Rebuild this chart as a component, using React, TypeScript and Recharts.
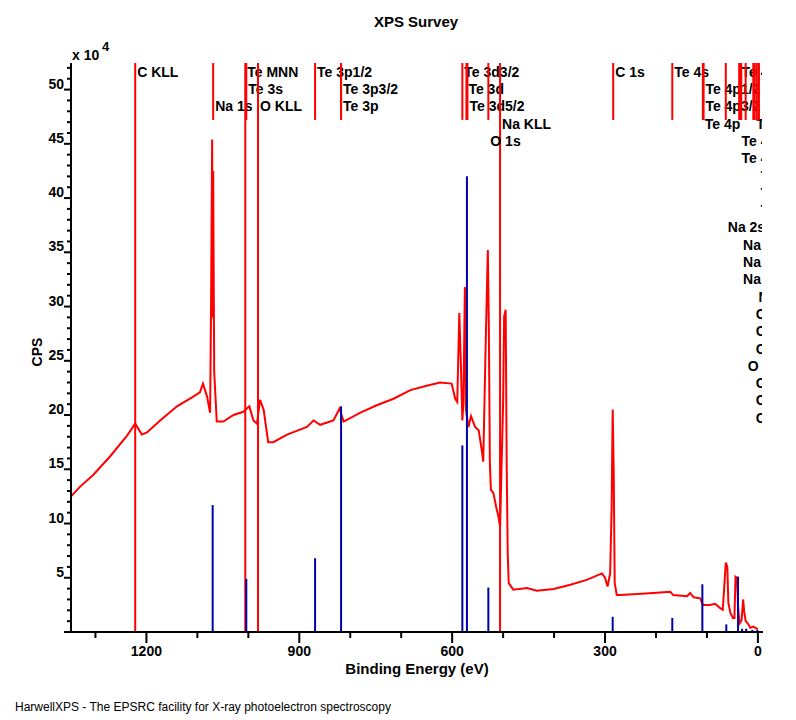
import React from 'react';
import { ComposedChart, Line, XAxis, YAxis, ReferenceLine } from 'recharts';

// survey spectrum: binding energy (eV) and counts per second (x 10^4)
const energy = [
  1348, 1330, 1304, 1271, 1238, 1222, 1209, 1199, 1173, 1140, 1108, 1095, 1089, 1081, 1075, 1073, 1071, 1070, 1069, 1067,
  1062, 1049, 1029, 1010, 998, 990, 983, 977, 970, 961, 951, 924, 885, 872, 859, 833, 821, 813, 781, 748, 715,
  682, 650, 624, 601, 594, 590, 586, 583, 580, 578, 575, 573, 568, 563, 555, 548, 542, 539, 535, 533, 530, 528,
  526, 524, 519, 514, 509, 506, 500, 498, 495, 493, 491, 489, 480, 453, 434, 401, 368, 336, 306, 300, 295, 290,
  287, 285, 283, 281, 277, 270, 237, 205, 172, 166, 139, 133, 126, 113, 108, 94, 84, 74, 69, 66, 63, 60, 58, 54,
  49, 46, 44, 41, 39, 36, 32, 29, 27, 24, 20, 15, 9, 2, 0,
];
const cps = [
  12.5, 13.4, 14.5, 16.2, 18.1, 19.2, 18.2, 18.4, 19.5, 20.8, 21.7, 22.1, 22.9, 21.7, 20.2, 31, 45.4, 29, 42.5, 24,
  19.4, 19.4, 20.0, 20.3, 20.8, 19.5, 19.2, 21.4, 20.5, 17.5, 17.5, 18.2, 18.9, 19.5, 19.1, 19.5, 20.6, 19.4, 20.2, 20.9, 21.5,
  22.3, 22.7, 23.0, 22.9, 21.5, 21.2, 29.4, 24.9, 19.5, 21.1, 31.8, 20.5, 18.9, 19.9, 18.9, 18.6, 16.8, 15.7, 24.8, 29.1, 35.2, 28.0,
  15.6, 13.1, 12.8, 11.6, 10.6, 9.7, 21.1, 29.1, 29.7, 15.6, 7.3, 4.5, 3.9, 4.05, 3.8, 3.96, 4.35, 4.8, 5.4, 5.0, 4.2, 5.4,
  11.6, 20.5, 14.9, 4.5, 3.4, 3.4, 3.5, 3.6, 3.7, 3.4, 3.3, 3.6, 3.2, 3.1, 2.5, 2.5, 2.6, 2.2, 2.05, 4.2, 6.4, 6.0, 2.7, 1.75,
  1.3, 1.3, 5.1, 5.0, 2.4, 0.8, 1.1, 3.0, 1.9, 1.0, 0.8, 0.4, 0.5, 0.3, 0.3,
];

// peak identification lines
const peakNames = [
  'C KLL', 'Na 1s', 'Te MNN', 'Te 3s', 'O KLL', 'Te 3p1/2', 'Te 3p3/2', 'Te 3p', 'Te 3d3/2', 'Te 3d', 'Te 3d5/2',
  'Na KLL', 'O 1s', 'C 1s', 'Te 4s', 'Te 4p1/2', 'Te 4p3/2', 'Te 4p', 'Te 4d3/2', 'Te 5s', 'Te 4d', 'Te 4d5/2',
  'Te 5p1/2', 'Te 5p3/2', 'Te 5p', 'Na 2s', 'Na 2p1/2', 'Na 2p3/2', 'Na 2p', 'Na 3s', 'O 2p1/2', 'O 2p3/2', 'O 2p',
  'O 2s', 'O 3s', 'O 3p3/2', 'O 3p',
];
const peakEnergy = [
  1222, 1069, 1006, 1004, 981, 869, 818, 818, 580, 572, 570,
  506, 529, 284, 168, 107, 107, 108, 36, 7, 36, 36,
  -1.5, -1.5, -1.5, 63, 33, 33, 33, 3, 8, 8, 8,
  24, 8, 8, 8,
];
// Auger lines run the full height of the plot
const peakAuger = [
  true, false, true, false, true, false, false, false, false, false, false,
  true, false, false, false, false, false, false, false, false, false, false,
  false, false, false, false, false, false, false, false, false, false, false,
  false, false, false, false,
];

// reference intensities (blue sticks), x 10^4
const refEnergy = [1070, 1004, 869, 818, 580, 571, 529, 285, 168, 109, 62, 39, 31, 23, 11, 1];
const refCps = [11.7, 4.9, 6.8, 20.8, 17.2, 42.0, 4.1, 1.4, 1.3, 4.4, 0.7, 5.1, 0.3, 0.3, 0.2, 0.2];

const xTicks = [1300, 1200, 1100, 1000, 900, 800, 700, 600, 500, 400, 300, 200, 100, 0];
const xTickLabels = [1200, 900, 600, 300, 0];
const yTicks = Array.from({ length: 53 }, (_, i) => i);
const yTickLabels = [5, 10, 15, 20, 25, 30, 35, 40, 45, 50];

// text row used by each peak name (layout only)
const peakRow = [
  0, 2, 0, 1, 2, 0, 1, 2, 0, 1, 2,
  3, 4, 0, 0, 1, 2, 3, 0, 3, 4, 5,
  6, 7, 8, 9, 10, 11, 12, 13, 14, 15, 16,
  17, 18, 19, 20,
];

const W = 796;
const H = 720;
const MARGIN = { top: 63, right: 33, bottom: 48, left: 11 };
const Y_AXIS_W = 60;
const X_AXIS_H = 40;
const PLOT = {
  left: MARGIN.left + Y_AXIS_W,
  top: MARGIN.top,
  right: W - MARGIN.right,
  bottom: H - MARGIN.bottom - X_AXIS_H,
};
const Y_MAX = 52.45;
const MARKER_END = 47.2;
const FONT = 'Arial, "Liberation Sans", sans-serif';

const data = energy.map((e, i) => ({ energy: e, cps: cps[i] }));

const XTick = ({ x, y, payload }: any) => {
  const major = xTickLabels.includes(payload.value);
  return (
    <g>
      <line x1={x} x2={x} y1={y} y2={y + (major ? 11 : 6)} stroke="#000" strokeWidth={2} />
      {major && (
        <text x={x} y={y + 24} textAnchor="middle" fontSize={14} fontWeight="bold" fontFamily={FONT} fill="#000">
          {payload.value}
        </text>
      )}
    </g>
  );
};

const YTick = ({ x, y, payload }: any) => {
  const major = payload.value % 5 === 0;
  return (
    <g>
      <line x1={x - (major ? 7 : 4)} x2={x} y1={y} y2={y} stroke="#000" strokeWidth={2} />
      {yTickLabels.includes(payload.value) && (
        <text x={x - 7} y={y - 1} textAnchor="end" fontSize={14} fontWeight="bold" fontFamily={FONT} fill="#000">
          {payload.value}
        </text>
      )}
    </g>
  );
};

// peak names are clipped to the plot box, as in the original survey printout
const PeakLabel = ({ viewBox, lbl, row, cid }: any) => {
  if (!viewBox) return null;
  const id = `peak-clip-${cid}`;
  return (
    <g>
      <clipPath id={id}>
        <rect x={PLOT.left} y={PLOT.top} width={PLOT.right - PLOT.left - 1} height={PLOT.bottom - PLOT.top} />
      </clipPath>
      <text
        x={viewBox.x + 2}
        y={PLOT.top + 13.7 + row * 17.3}
        clipPath={`url(#${id})`}
        fontSize={14}
        fontWeight="bold"
        fontFamily={FONT}
        fill="#000"
      >
        {lbl}
      </text>
    </g>
  );
};

const txt = (extra: React.CSSProperties): React.CSSProperties => ({
  position: 'absolute',
  fontFamily: FONT,
  color: '#000',
  whiteSpace: 'nowrap',
  lineHeight: 1,
  ...extra,
});

const App = () => {
  const border = { stroke: '#000', strokeWidth: 2 };
  return (
    <div style={{ position: 'absolute', left: 0, top: 0, width: W, height: H, background: '#fff' }}>
      <ComposedChart width={W} height={H} data={data} margin={MARGIN}>
        <XAxis
          dataKey="energy"
          type="number"
          domain={[-10, 1348]}
          reversed
          allowDataOverflow
          ticks={xTicks}
          interval={0}
          tick={<XTick />}
          tickLine={false}
          tickSize={0}
          tickMargin={0}
          height={X_AXIS_H}
          axisLine={border}
        />
        <YAxis
          type="number"
          domain={[0, Y_MAX]}
          allowDataOverflow
          ticks={yTicks}
          interval={0}
          tick={<YTick />}
          tickLine={false}
          tickSize={0}
          tickMargin={0}
          width={Y_AXIS_W}
          axisLine={border}
        />
        <XAxis xAxisId="top" orientation="top" type="number" domain={[0, 1]} height={0} tick={false} tickLine={false} axisLine={border} />
        <YAxis yAxisId="right" orientation="right" type="number" domain={[0, 1]} width={0} tick={false} tickLine={false} axisLine={border} />
        <Line
          dataKey="cps"
          type="linear"
          stroke="#ff0000"
          strokeWidth={2}
          dot={false}
          activeDot={false}
          isAnimationActive={false}
        />
        {peakNames.map((name, i) => (
          <ReferenceLine
            key={`peak-${i}`}
            segment={[
              { x: peakEnergy[i], y: peakAuger[i] ? 0 : MARKER_END },
              { x: peakEnergy[i], y: Y_MAX },
            ]}
            stroke="#ff0000"
            strokeWidth={2}
            label={<PeakLabel lbl={name} row={peakRow[i]} cid={i} />}
          />
        ))}
        {refEnergy.map((e, i) => (
          <ReferenceLine
            key={`ref-${i}`}
            segment={[
              { x: e, y: 0 },
              { x: e, y: refCps[i] },
            ]}
            stroke="#0000a8"
            strokeWidth={2}
          />
        ))}
      </ComposedChart>
      <div style={txt({ left: 416, top: 21, transform: 'translate(-50%, -50%)', fontSize: 15, fontWeight: 'bold' })}>
        XPS Survey
      </div>
      <div style={txt({ left: 72, top: 48, fontSize: 14, fontWeight: 'bold' })}>x 10</div>
      <div style={txt({ left: 102, top: 40, fontSize: 13, fontWeight: 'bold' })}>4</div>
      <div
        style={txt({ left: 37, top: 352, transform: 'translate(-50%, -50%) rotate(-90deg)', fontSize: 14, fontWeight: 'bold' })}
      >
        CPS
      </div>
      <div style={txt({ left: 417, top: 668, transform: 'translate(-50%, -50%)', fontSize: 15, fontWeight: 'bold' })}>
        Binding Energy (eV)
      </div>
      <div style={txt({ left: 15, top: 701, fontSize: 12 })}>
        HarwellXPS - The EPSRC facility for X-ray photoelectron spectroscopy
      </div>
    </div>
  );
};

export default App;
